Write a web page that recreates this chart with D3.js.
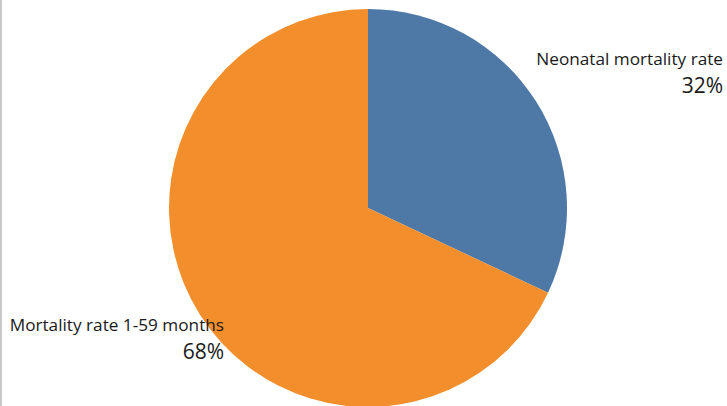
<!DOCTYPE html>
<html>
  <head>
    <meta charset="UTF-8" />
    <title>Under-five mortality split</title>
    <script src="https://d3js.org/d3.v7.min.js"></script>
    <style>
      body { margin: 0; background: #fff; }
      svg { display: block; font-family: "Open Sans", sans-serif; }
    </style>
  </head>
  <body>
    <div id="chart"></div>
    <script>
      const categories = ["Neonatal mortality rate", "Mortality rate 1-59 months"];
      const shares = [32, 68];
      const colors = ["#4e79a7", "#f28e2b"];

      const width = 727, height = 406;
      const cx = 368, cy = 208, radius = 199;

      const svg = d3.select("#chart").append("svg")
        .attr("width", width)
        .attr("height", height);

      // thin frame line on the left edge
      svg.append("line")
        .attr("x1", 1).attr("x2", 1)
        .attr("y1", 0).attr("y2", height)
        .attr("stroke", "#c8c8c8")
        .attr("stroke-width", 2);

      const data = categories.map((name, i) => ({ name, value: shares[i], color: colors[i] }));

      const pie = d3.pie().value((d) => d.value).sort(null);
      const arc = d3.arc().innerRadius(0).outerRadius(radius);

      const g = svg.append("g").attr("transform", `translate(${cx},${cy})`);

      g.selectAll("path.slice")
        .data(pie(data))
        .enter()
        .append("path")
        .attr("class", "slice")
        .attr("d", arc)
        .attr("fill", (d) => d.data.color);

      // labels: right-aligned name + percentage beneath
      const labelPos = [
        { x: 723, y: 65 },
        { x: 224, y: 331 },
      ];

      const labels = svg.selectAll("g.label")
        .data(data)
        .enter()
        .append("g")
        .attr("class", "label")
        .attr("transform", (d, i) => `translate(${labelPos[i].x},${labelPos[i].y})`)
        .attr("text-anchor", "end")
        .attr("fill", "#1a1a1a");

      labels.append("text")
        .attr("font-size", 17.2)
        .text((d) => d.name);

      labels.append("text")
        .attr("y", 27.5)
        .attr("font-size", 21)
        .text((d) => d.value + "%");
    </script>
  </body>
</html>
